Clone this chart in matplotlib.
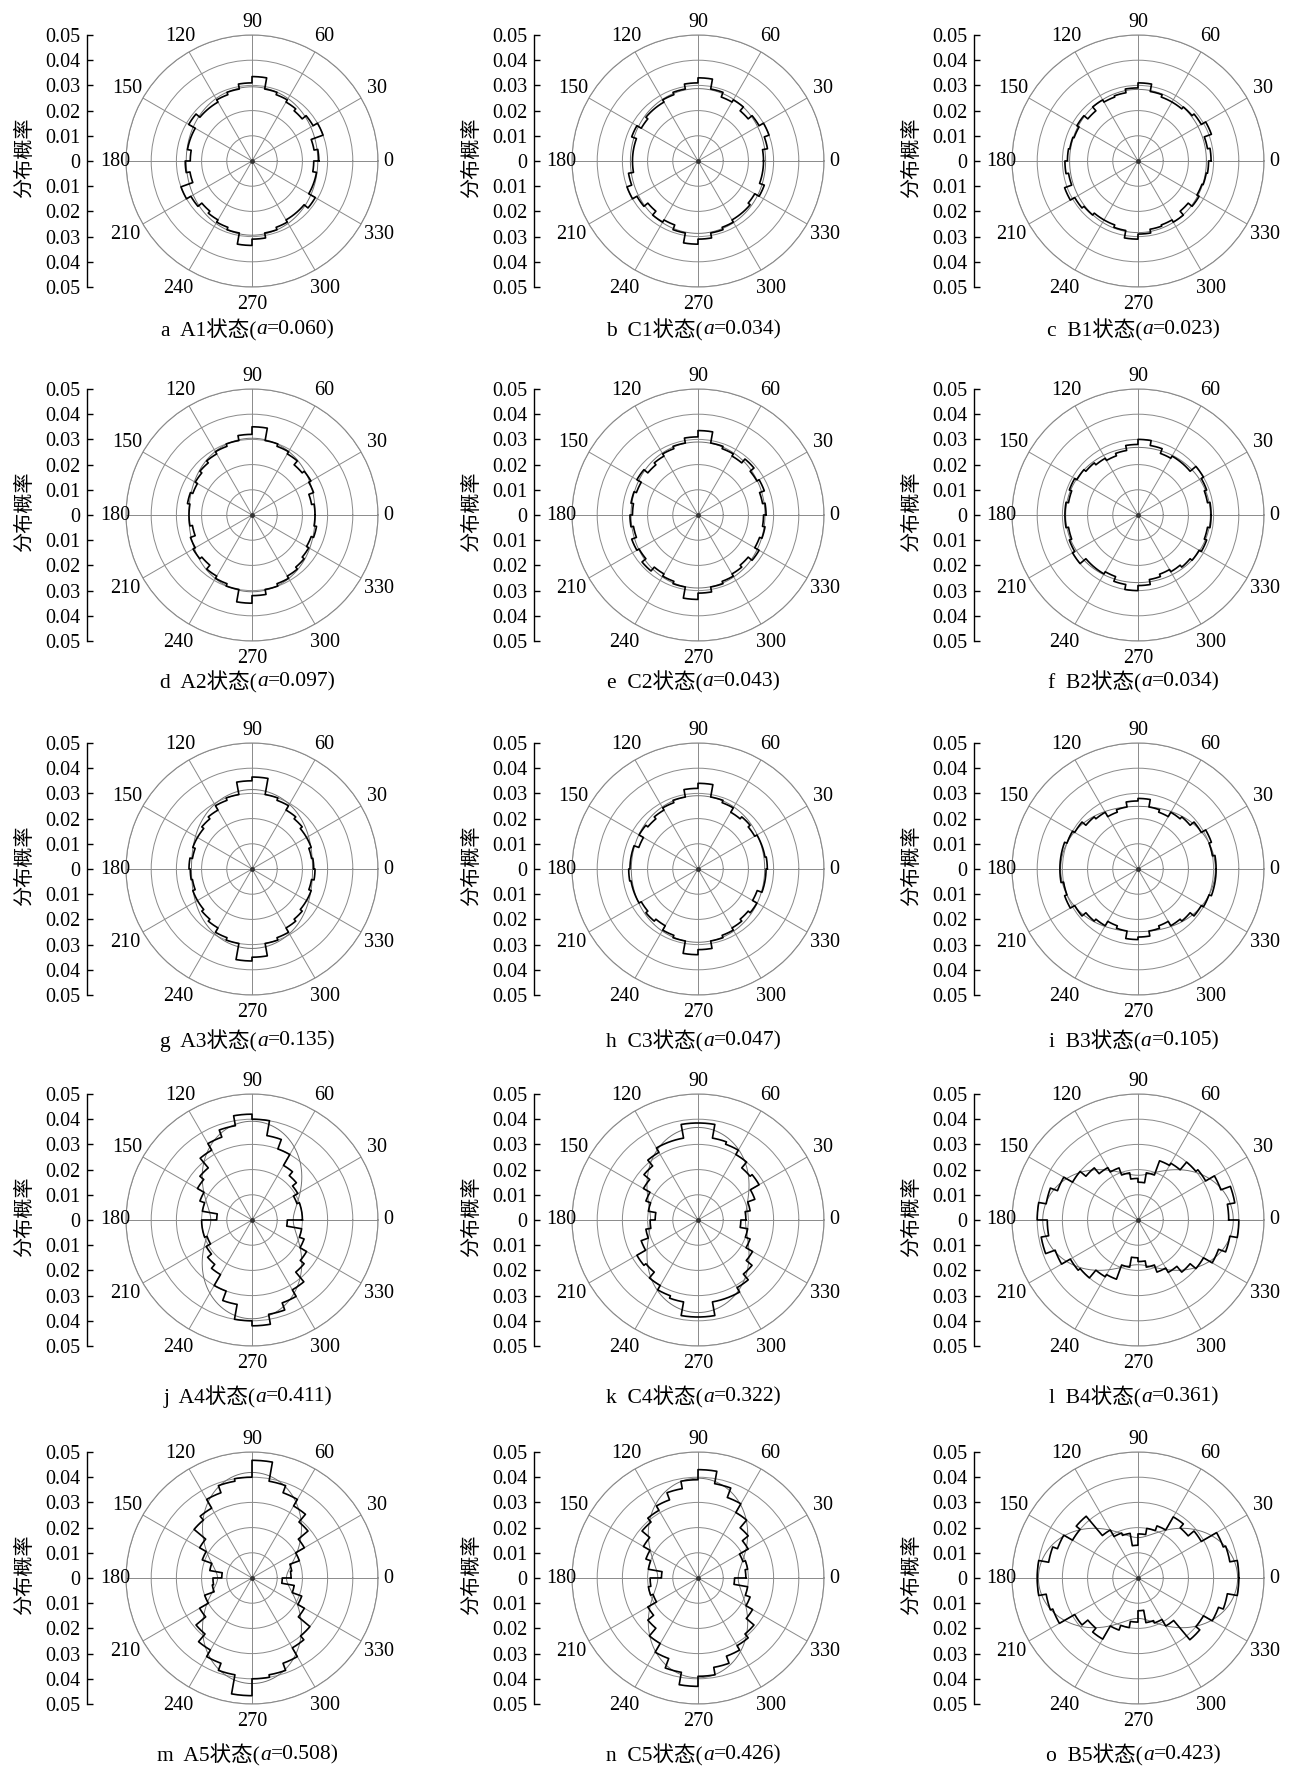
import matplotlib
matplotlib.use('Agg')
import matplotlib.pyplot as plt
import numpy as np

# contact orientation distribution, bins of 10 deg from 0 to 180
# (the rose is centrosymmetric, 180-360 repeats these)
A1 = [0.0265, 0.025, 0.030, 0.028, 0.026, 0.027, 0.028, 0.029, 0.0335,
      0.031, 0.029, 0.028, 0.027, 0.027, 0.029, 0.026, 0.026, 0.0245]
C1 = [0.026, 0.028, 0.030, 0.028, 0.026, 0.028, 0.027, 0.029, 0.033,
      0.031, 0.029, 0.028, 0.027, 0.027, 0.026, 0.028, 0.026, 0.026]
B1 = [0.029, 0.028, 0.031, 0.029, 0.028, 0.027, 0.027, 0.028, 0.031,
      0.029, 0.0275, 0.027, 0.028, 0.026, 0.028, 0.027, 0.0275, 0.028]
A2 = [0.025, 0.024, 0.026, 0.027, 0.026, 0.028, 0.029, 0.030, 0.035,
      0.032, 0.030, 0.029, 0.028, 0.027, 0.026, 0.025, 0.026, 0.025]
C2 = [0.027, 0.026, 0.028, 0.027, 0.029, 0.027, 0.028, 0.029, 0.0335,
      0.031, 0.029, 0.028, 0.027, 0.026, 0.028, 0.026, 0.027, 0.026]
B2 = [0.029, 0.028, 0.029, 0.030, 0.027, 0.027, 0.026, 0.028, 0.030,
      0.028, 0.026, 0.025, 0.026, 0.027, 0.028, 0.029, 0.028, 0.029]
A3 = [0.0245, 0.024, 0.025, 0.025, 0.026, 0.027, 0.029, 0.030, 0.0365,
      0.035, 0.030, 0.029, 0.027, 0.026, 0.025, 0.025, 0.024, 0.025]
C3 = [0.0275, 0.027, 0.027, 0.026, 0.027, 0.026, 0.028, 0.029, 0.034,
      0.032, 0.029, 0.028, 0.027, 0.026, 0.027, 0.025, 0.027, 0.027]
B3 = [0.031, 0.030, 0.031, 0.029, 0.027, 0.026, 0.024, 0.025, 0.028,
      0.027, 0.025, 0.024, 0.026, 0.027, 0.029, 0.030, 0.031, 0.031]
A4 = [0.020, 0.020, 0.019, 0.021, 0.023, 0.025, 0.030, 0.034, 0.040,
      0.042, 0.038, 0.035, 0.032, 0.027, 0.025, 0.022, 0.020, 0.014]
C4 = [0.019, 0.021, 0.024, 0.028, 0.027, 0.030, 0.032, 0.033, 0.0385,
      0.0385, 0.033, 0.033, 0.031, 0.028, 0.025, 0.022, 0.020, 0.017]
B4 = [0.036, 0.039, 0.035, 0.031, 0.030, 0.026, 0.025, 0.019, 0.015,
      0.0165, 0.019, 0.022, 0.024, 0.027, 0.030, 0.034, 0.037, 0.040]
A5 = [0.0155, 0.016, 0.020, 0.024, 0.029, 0.033, 0.036, 0.039, 0.0467,
      0.040, 0.039, 0.036, 0.032, 0.030, 0.024, 0.021, 0.017, 0.012]
C5 = [0.019, 0.020, 0.019, 0.023, 0.026, 0.030, 0.034, 0.038, 0.043,
      0.039, 0.036, 0.033, 0.031, 0.029, 0.025, 0.022, 0.020, 0.0145]
B5 = [0.040, 0.037, 0.036, 0.029, 0.026, 0.028, 0.022, 0.020, 0.0175,
      0.013, 0.018, 0.019, 0.022, 0.032, 0.030, 0.034, 0.036, 0.040]

letters = list('abcdefghijklmno')
states = ['A1', 'C1', 'B1', 'A2', 'C2', 'B2', 'A3', 'C3', 'B3',
          'A4', 'C4', 'B4', 'A5', 'C5', 'B5']
series = [A1, C1, B1, A2, C2, B2, A3, C3, B3, A4, C4, B4, A5, C5, B5]
aniso = [0.060, 0.034, 0.023, 0.097, 0.043, 0.034, 0.135, 0.047, 0.105,
         0.411, 0.322, 0.361, 0.508, 0.426, 0.423]
# principal direction of the fitted curve, degrees
theta_a = [90, 90, 90, 90, 90, 0, 90, 90, 0, 90, 90, 0, 90, 90, 0]

r_ticks = [0.01, 0.02, 0.03, 0.04, 0.05]
ang_ticks = list(range(0, 360, 30))
y_ticks = [-0.05, -0.04, -0.03, -0.02, -0.01, 0, 0.01, 0.02, 0.03, 0.04, 0.05]

# layout in pixels
W, H = 1297, 1767
R = 126
col_cx = [252, 698, 1138]
col_axis = [87, 534, 974]
row_cy = [161, 515, 869, 1220, 1578]
row_cap = [330, 682, 1041, 1397, 1755]

FONT = ['Liberation Serif', 'Noto Sans CJK SC']
plt.rcParams['font.family'] = FONT
plt.rcParams['font.size'] = 14.5
GRID = '#8a8a8a'

fig = plt.figure(figsize=(W / 100, H / 100), dpi=100)
renderer = fig.canvas.get_renderer()

edges = np.deg2rad(np.arange(0, 361, 10))
nbin = len(edges) - 1

# radial position of the angle labels, as a fraction of the outer ring
def label_frac(a):
    if a in (0, 180):
        return 1.085
    if a == 90:
        return 1.10
    if a == 270:
        return 1.14
    if a < 180:
        return 1.145
    return 1.165

for i, vals in enumerate(series):
    row, col = divmod(i, 3)
    cx, cy = col_cx[col], row_cy[row]

    # polar rose
    ax = fig.add_axes([(cx - R) / W, 1 - (cy + R) / H, 2 * R / W, 2 * R / H],
                      projection='polar')
    full = np.concatenate([vals, vals])
    th, rr = [], []
    for k in range(nbin):
        t = np.linspace(edges[k], edges[k + 1], 8)
        th.extend(t)
        rr.extend([full[k]] * len(t))
    th.append(th[0])
    rr.append(rr[0])
    ax.plot(th, rr, color='black', lw=1.2, zorder=4)

    tf = np.linspace(0, 2 * np.pi, 361)
    fit = (1 + aniso[i] * np.cos(2 * (tf - np.deg2rad(theta_a[i])))) / nbin
    ax.plot(tf, fit, color='#707070', lw=0.7, zorder=3)
    ax.plot([0], [0], marker='o', ms=2.5, color='#333333', zorder=5)

    ax.set_ylim(0, 0.05)
    ax.set_yticks(r_ticks)
    ax.set_yticklabels([])
    ax.set_xticks(np.deg2rad(ang_ticks))
    ax.set_xticklabels([])
    ax.grid(True, color=GRID, lw=0.7)
    ax.spines['polar'].set_color(GRID)
    ax.spines['polar'].set_linewidth(0.8)
    ax.tick_params(length=0)
    for a in ang_ticks:
        ax.text(np.deg2rad(a), 0.05 * label_frac(a), str(a), ha='center',
                va='center', fontsize=14.5, clip_on=False)

    # linear scale on the left
    ay = fig.add_axes([col_axis[col] / W, 1 - (cy + R) / H, 2 / W, 2 * R / H])
    ay.set_ylim(-0.05, 0.05)
    ay.set_xticks([])
    ay.set_yticks(y_ticks)
    ay.set_yticklabels(['0' if v == 0 else '%.2f' % abs(v) for v in y_ticks])
    for s in ('top', 'right', 'bottom'):
        ay.spines[s].set_visible(False)
    ay.spines['left'].set_linewidth(1.0)
    ay.tick_params(axis='y', direction='in', length=4, width=1.0, pad=5,
                   labelsize=14.5)
    ay.patch.set_visible(False)
    fig.text((col_axis[col] - 62) / W, 1 - (cy - 3) / H, '分布概率',
             rotation=90, ha='center', va='center', fontsize=14.5)

    # caption: "a  A1状态(a=0.060)" with italic a
    ytxt = 1 - row_cap[row] / H
    parts = [('%s  %s状态(' % (letters[i], states[i]), 'normal'),
             ('a', 'italic'),
             ('=%.3f)' % aniso[i], 'normal')]
    objs = [fig.text(0, ytxt, s, style=st, ha='left', va='center',
                     fontsize=15.5) for s, st in parts]
    widths = [o.get_window_extent(renderer).width for o in objs]
    x0 = cx - 4 - sum(widths) / 2
    for o, w in zip(objs, widths):
        o.set_x(x0 / W)
        x0 += w

fig.savefig('out.png', dpi=100)
